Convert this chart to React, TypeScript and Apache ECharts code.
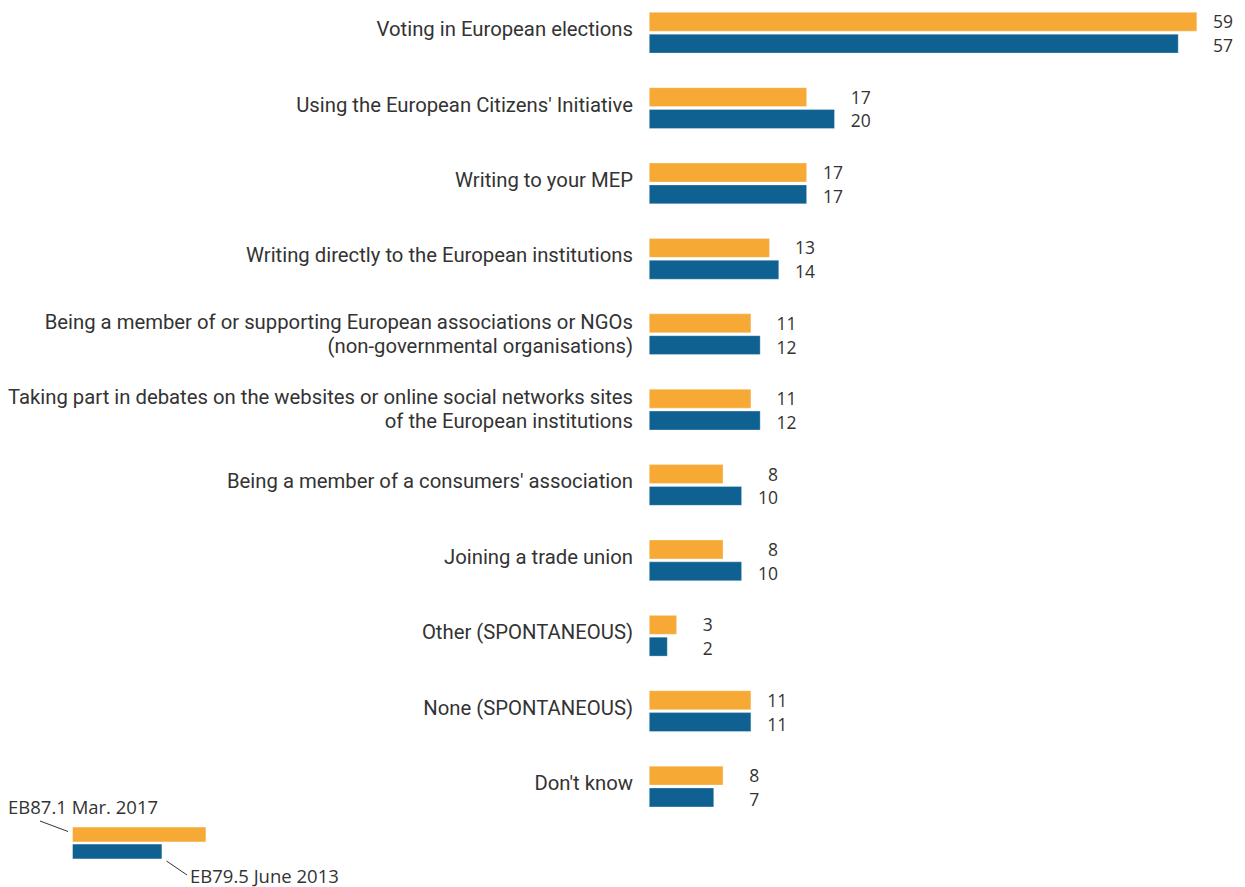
import React, { useEffect, useRef } from "react";
import * as echarts from "echarts";

const categories = [
  "Voting in European elections",
  "Using the European Citizens' Initiative",
  "Writing to your MEP",
  "Writing directly to the European institutions",
  "Being a member of or supporting European associations or NGOs\n(non-governmental organisations)",
  "Taking part in debates on the websites or online social networks sites\nof the European institutions",
  "Being a member of a consumers' association",
  "Joining a trade union",
  "Other (SPONTANEOUS)",
  "None (SPONTANEOUS)",
  "Don't know",
];
const mar2017 = [59, 17, 17, 13, 11, 11, 8, 8, 3, 11, 8];
const jun2013 = [57, 20, 17, 14, 12, 12, 10, 10, 2, 11, 7];
const seriesNames = ["EB87.1 Mar. 2017", "EB79.5 June 2013"];

const ORANGE = "#F6A935";
const BLUE = "#0E6191";
const TEXT = "#333333";
const FONT = "'Open Sans', sans-serif";
const CAT_FONT = "Roboto, sans-serif";
const SHIFT = 5;

export default function App() {
  const ref = useRef<HTMLDivElement>(null);
  useEffect(() => {
    if (!ref.current) return;
    const chart = echarts.init(ref.current, undefined, { renderer: "svg" });
    const maxes = mar2017.map((v, i) => Math.max(v, jun2013[i]));
    const padA = mar2017.map((v, i) => maxes[i] - v);
    const padB = jun2013.map((v, i) => maxes[i] - v);
    const barW = 19.5;
    const valueLabel = (src: number[], dy: number) => ({
      show: true,
      position: "right",
      distance: 36,
      align: "right",
      offset: [0, dy],
      color: TEXT,
      fontSize: 17.5,
      fontFamily: FONT,
      formatter: (p: any) => String(src[p.dataIndex]),
    });
    const labelFont = { color: TEXT, fontSize: 20.3, fontFamily: CAT_FONT, align: "right" };
    chart.setOption({
      animation: false,
      grid: { left: 649, right: 38.6, top: 0, bottom: 62.8, containLabel: false },
      xAxis: { type: "value", min: 0, max: 60, show: false },
      yAxis: {
        type: "category",
        data: categories,
        inverse: true,
        axisLine: { show: false },
        axisTick: { show: false },
        splitLine: { show: false },
        axisLabel: {
          ...labelFont,
          margin: 16,
          lineHeight: 24,
          formatter: (v: string) => (v.includes("\n") ? `{m|${v}}` : `{s|${v}}`),
          rich: {
            s: { ...labelFont, lineHeight: 24, padding: [0, 0, 7, 0] },
            m: { ...labelFont, lineHeight: 24, padding: [0, 0, 1, 0] },
          },
        },
      },
      series: [
        {
          name: seriesNames[0],
          type: "bar",
          stack: "a",
          data: mar2017,
          barWidth: barW,
          barGap: "12%",
          itemStyle: { color: ORANGE, borderColor: "rgba(255,255,255,0.5)", borderWidth: 0.6 },
        },
        {
          type: "bar",
          stack: "a",
          data: padA,
          barWidth: barW,
          barGap: "12%",
          silent: true,
          itemStyle: { color: "transparent" },
          label: valueLabel(mar2017, -0.5),
        },
        {
          name: seriesNames[1],
          type: "bar",
          stack: "b",
          data: jun2013,
          barWidth: barW,
          barGap: "12%",
          itemStyle: { color: BLUE, borderColor: "rgba(255,255,255,0.5)", borderWidth: 0.6 },
        },
        {
          type: "bar",
          stack: "b",
          data: padB,
          barWidth: barW,
          barGap: "12%",
          silent: true,
          itemStyle: { color: "transparent" },
          label: valueLabel(jun2013, 1.5),
        },
      ],
      graphic: [
        { type: "rect", shape: { x: 72.7, y: 827.3 + SHIFT, width: 133, height: 14.4 }, style: { fill: ORANGE } },
        { type: "rect", shape: { x: 72.7, y: 844.3 + SHIFT, width: 89, height: 14.4 }, style: { fill: BLUE } },
        { type: "line", shape: { x1: 40, y1: 821 + SHIFT, x2: 68, y2: 831.5 + SHIFT }, style: { stroke: "#333", lineWidth: 1 } },
        { type: "line", shape: { x1: 166.5, y1: 861 + SHIFT, x2: 187, y2: 875 + SHIFT }, style: { stroke: "#333", lineWidth: 1 } },
        {
          type: "text",
          x: 8,
          y: 806 + SHIFT,
          style: { text: seriesNames[0], fill: TEXT, fontSize: 18.5, fontFamily: FONT, verticalAlign: "middle", align: "left" },
        },
        {
          type: "text",
          x: 190,
          y: 875 + SHIFT,
          style: { text: seriesNames[1], fill: TEXT, fontSize: 18.5, fontFamily: FONT, verticalAlign: "middle", align: "left" },
        },
      ],
    });
    return () => chart.dispose();
  }, []);
  return <div ref={ref} style={{ width: 1245, height: 887 + SHIFT, position: "absolute", left: 0, top: -SHIFT }} />;
}
